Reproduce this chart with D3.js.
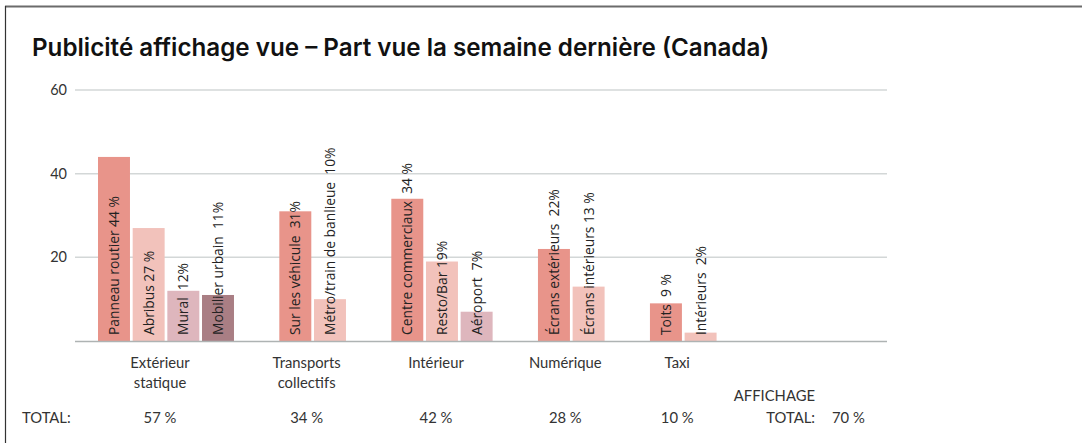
<!DOCTYPE html>
<html><head><meta charset="utf-8">
<script src="https://cdn.jsdelivr.net/npm/d3@7"></script>
<style>
html,body{margin:0;padding:0;background:#fff;}
svg{display:block;}
</style></head>
<body>
<script>
// ---- data ----
const groups = ["Extérieur|statique", "Transports|collectifs", "Intérieur", "Numérique", "Taxi"];
const groupTotals = ["57 %", "34 %", "42 %", "28 %", "10 %"];
const subLabels = [
  ["Panneau routier 44 %", "Abribus 27 %", "Mural  12%", "Mobilier urbain  11%"],
  ["Sur les véhicule  31%", "Métro/train de banlieue  10%"],
  ["Centre commerciaux  34 %", "Resto/Bar 19%", "Aéroport  7%"],
  ["Écrans extérieurs  22%", "Écrans intérieurs 13 %"],
  ["Toits  9 %", "Intérieurs  2%"]
];
const subValues = [
  [44, 27, 12, 11],
  [31, 10],
  [34, 19, 7],
  [22, 13],
  [9, 2]
];
const yTicks = [20, 40, 60];
const title = "Publicité affichage vue – Part vue la semaine dernière (Canada)";
const grandTotalLabel = ["AFFICHAGE", "TOTAL:"];
const grandTotalValue = "70 %";
const totalRowLabel = "TOTAL:";
const colors = ["#E8948A", "#F2C2BB", "#DEB6BD", "#A97E84"];

// ---- layout ----
const W = 1082, H = 443;
const svg = d3.select("body").append("svg").attr("width", W).attr("height", H);
const font = "Lato, 'Open Sans', sans-serif";
const labFont = "'Open Sans', 'Noto Sans', sans-serif";

// frame
svg.append("line").attr("x1", 5).attr("x2", W).attr("y1", 6.5).attr("y2", 6.5).attr("stroke", "#6b6b6b").attr("stroke-width", 2);
svg.append("line").attr("x1", 5.5).attr("x2", 5.5).attr("y1", 6).attr("y2", H).attr("stroke", "#333").attr("stroke-width", 1.2);

const tt = svg.append("text").attr("x", 32).attr("y", 56).text(title)
  .attr("font-family", "Inter, Lato, sans-serif").attr("font-weight", 600).attr("font-size", 22).attr("fill", "#111");
const tw = tt.node().getComputedTextLength();
tt.attr("font-size", 22 * 738 / tw);

const y = d3.scaleLinear().domain([0, 60]).range([341, 90]);

// positions in slot units: each bar = 1 slot, each group gap = gapSlots
const gapSlots = 1.23;
const flat = [];
let cursor = 0;
const groupSpans = [];
subValues.forEach((vals, gi) => {
  const start = cursor;
  vals.forEach((v, bi) => {
    flat.push({gi, bi, v, label: subLabels[gi][bi], pos: cursor});
    cursor += 1;
  });
  groupSpans.push([start, cursor]);
  cursor += gapSlots;
});
const x = d3.scaleLinear().domain([0, 1]).range([98, 98 + 34.67]);
const barW = x(1) - x(0) - 2.7;

// grid
const grid = svg.append("g");
grid.selectAll("line").data(yTicks).join("line")
  .attr("x1", 75).attr("x2", 887).attr("y1", d => y(d)).attr("y2", d => y(d))
  .attr("stroke", "#d3d7d7").attr("stroke-width", 1.5);
grid.selectAll("text").data(yTicks).join("text")
  .attr("x", 67).attr("y", d => y(d)).attr("dy", "0.35em").attr("text-anchor", "end")
  .attr("font-family", font).attr("font-size", 14.5).attr("fill", "#333").text(d => d);

// bars
svg.append("g").selectAll("rect").data(flat).join("rect")
  .attr("x", d => x(d.pos)).attr("width", barW)
  .attr("y", d => y(d.v)).attr("height", d => y(0) - y(d.v))
  .attr("fill", d => colors[d.bi]);

// baseline
svg.append("line").attr("x1", 75).attr("x2", 887).attr("y1", y(0) + 0.5).attr("y2", y(0) + 0.5)
  .attr("stroke", "#aeb3b3").attr("stroke-width", 1.5);

// bar labels
svg.append("g").selectAll("text").data(flat).join("text")
  .attr("transform", d => `translate(${x(d.pos) + barW / 2 + 5},335) rotate(-90)`)
  .attr("font-family", labFont).attr("font-size", 13.8).attr("fill", "#222")
  .style("white-space", "pre")
  .text(d => d.label);

// group labels
const cx = gi => (x(groupSpans[gi][0]) + x(groupSpans[gi][1]) - 2.7) / 2 - 6;
const gl = svg.append("g");
groups.forEach((g, gi) => {
  const t = gl.append("text").attr("text-anchor", "middle")
    .attr("font-family", font).attr("font-size", 14.8).attr("fill", "#333");
  g.split("|").forEach((line, li) => {
    t.append("tspan").attr("x", cx(gi)).attr("y", 368 + li * 20).text(line);
  });
  gl.append("text").attr("x", cx(gi)).attr("y", 423).attr("text-anchor", "middle")
    .attr("font-family", font).attr("font-size", 14.8).attr("fill", "#333").text(groupTotals[gi]);
});
gl.append("text").attr("x", 22).attr("y", 423)
  .attr("font-family", font).attr("font-size", 14.8).attr("fill", "#333").text(totalRowLabel);
gl.append("text").attr("x", 815).attr("y", 401).attr("text-anchor", "end")
  .attr("font-family", font).attr("font-size", 14.8).attr("fill", "#333").text(grandTotalLabel[0]);
gl.append("text").attr("x", 815).attr("y", 423).attr("text-anchor", "end")
  .attr("font-family", font).attr("font-size", 14.8).attr("fill", "#333").text(grandTotalLabel[1]);
gl.append("text").attr("x", 832).attr("y", 423)
  .attr("font-family", font).attr("font-size", 14.8).attr("fill", "#333").text(grandTotalValue);
</script>
</body></html>
